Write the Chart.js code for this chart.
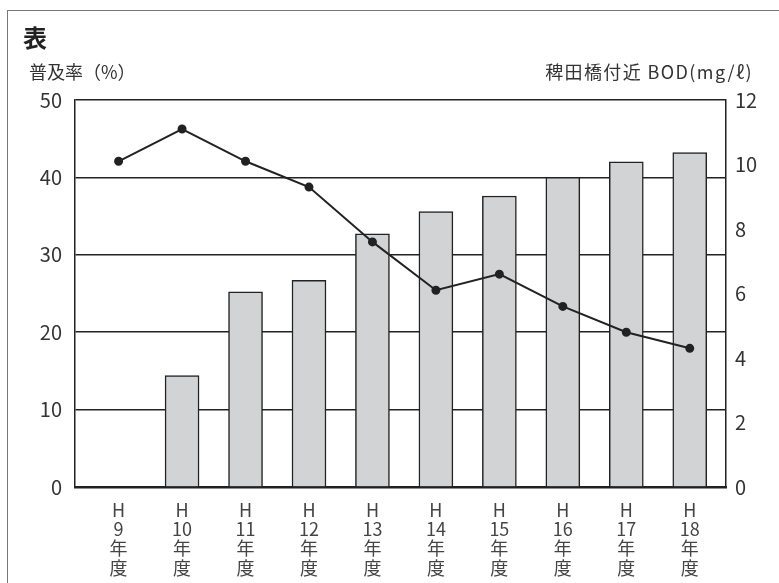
<!DOCTYPE html>
<html lang="ja">
<head>
<meta charset="utf-8">
<script src="https://cdn.jsdelivr.net/npm/chart.js@4/dist/chart.umd.min.js"></script>
<style>
  html, body { margin: 0; padding: 0; background: #fff; overflow: hidden; }
  #wrap { position: relative; width: 779px; height: 583px; }
  #frame { position: absolute; left: 7px; top: 10px; width: 900px; height: 700px; border: 1px solid #777; }
  #chart-canvas { position: absolute; left: 0; top: 0; }
  .txt { position: absolute; font-family: "Noto Sans CJK JP", sans-serif; color: #333; line-height: 1; white-space: nowrap; }
  #title { left: 23px; top: 25px; font-size: 24px; font-weight: bold; color: #222; }
  #left-label { left: 29px; top: 62px; font-size: 18px; }
  #right-label { right: 26px; top: 62px; font-size: 18px; letter-spacing: 1.4px; }
</style>
</head>
<body>
<div id="wrap">
  <div id="frame"></div>
  <canvas id="chart-canvas" width="779" height="583"></canvas>
  <div class="txt" id="title">表</div>
  <div class="txt" id="left-label">普及率（%）</div>
  <div class="txt" id="right-label">稗田橋付近 BOD(mg/ℓ)</div>
</div>
<script>
const categories = ["H9年度", "H10年度", "H11年度", "H12年度", "H13年度",
  "H14年度", "H15年度", "H16年度", "H17年度", "H18年度"];
// 普及率 (%)
const coverage = [null, 14.4, 25.2, 26.7, 32.7, 35.6, 37.6, 40.0, 42.0, 43.2];
// 稗田橋付近 BOD (mg/ℓ)
const bod = [10.1, 11.1, 10.1, 9.3, 7.6, 6.1, 6.6, 5.6, 4.8, 4.3];
const leftTicks = [0, 10, 20, 30, 40, 50];
const rightTicks = [0, 2, 4, 6, 8, 10, 12];

const chartCanvas = document.getElementById("chart-canvas");
Chart.defaults.font.family = "'Noto Sans CJK JP', sans-serif";
Chart.defaults.color = "#333";

function splitLabel(label) {
  const m = label.match(/^H(\d+)(年)(度)$/);
  return m ? ["H", m[1], m[2], m[3]] : [label];
}

const barPoints = coverage.map((v, i) => ({ x: i, y: v }));
const linePoints = bod.map((v, i) => ({ x: i, y: v }));

const config = {
  type: "bar",
  data: {
    datasets: [
      {
        type: "line",
        label: "BOD",
        data: linePoints,
        yAxisID: "y1",
        borderColor: "#222",
        backgroundColor: "#222",
        borderWidth: 2,
        pointRadius: 3.5,
        pointBackgroundColor: "#222",
        tension: 0,
        order: 0
      },
      {
        type: "bar",
        label: "普及率",
        data: barPoints,
        yAxisID: "y",
        backgroundColor: "#d2d3d5",
        borderColor: "#222",
        borderWidth: 1.5,
        barThickness: 34,
        order: 1
      }
    ]
  },
  options: {
    responsive: false,
    animation: false,
    devicePixelRatio: 1,
    layout: { padding: { top: 100, left: 0, right: 0, bottom: 0 } },
    plugins: { legend: { display: false }, tooltip: { enabled: false } },
    scales: {
      x: {
        type: "linear",
        offset: false,
        min: -0.687,
        max: 9.571,
        grid: { display: false, offset: false },
        border: { display: true, color: "#222", width: 2.5 },
        afterBuildTicks: (scale) => {
          scale.ticks = categories.map((c, i) => ({ value: i }));
        },
        afterFit: (scale) => { scale.height = 96; },
        ticks: {
          autoSkip: false,
          maxRotation: 0,
          padding: 5,
          color: "#444",
          font: { size: 18, lineHeight: 1.08 },
          callback: (value) => splitLabel(categories[value] || "")
        }
      },
      y: {
        position: "left",
        min: 0,
        max: 50,
        afterBuildTicks: (scale) => {
          scale.ticks = leftTicks.map((v) => ({ value: v }));
        },
        afterFit: (scale) => { scale.width = 75; },
        grid: { color: "#222", lineWidth: 1.5, drawTicks: false },
        border: { display: true, color: "#222", width: 1.5 },
        ticks: { padding: 13, color: "#333", font: { size: 20 } }
      },
      y1: {
        position: "right",
        min: 0,
        max: 12,
        afterBuildTicks: (scale) => {
          scale.ticks = rightTicks.map((v) => ({ value: v }));
        },
        afterFit: (scale) => { scale.width = 53; },
        grid: { display: false, drawTicks: false },
        border: { display: true, color: "#222", width: 1.5 },
        ticks: { padding: 9, color: "#333", font: { size: 20 } }
      }
    }
  }
};

new Chart(chartCanvas, config);
</script>
</body>
</html>
